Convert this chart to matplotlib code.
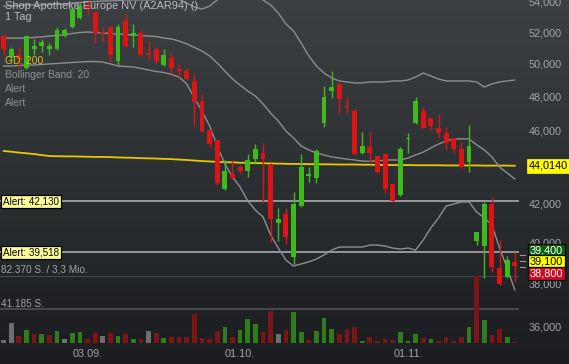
import numpy as np
import matplotlib
matplotlib.use('Agg')
import matplotlib.pyplot as plt
from matplotlib.lines import Line2D
from matplotlib.ticker import NullLocator

plt.rcParams['font.family'] = ['Liberation Sans', 'DejaVu Sans']

# ---------------- data ----------------
title = "Shop Apotheke Europe NV (A2AR94) ()"
period = "1 Tag"

opens = [51.74, 50.40, 50.53, 49.72, 50.91, 51.10, 50.91, 50.91, 51.74, 52.33,
         52.92, 53.78, 53.31, 51.99, 52.33, 50.15, 52.72, 51.74, 51.94, 50.66,
         50.91, 49.90, 50.34, 49.66, 49.53, 48.92, 47.71, 46.02, 45.45, 42.76,
         43.56, 43.94, 43.72, 44.38, 44.72, 44.05, 40.98, 41.44, 39.28, 41.86,
         43.45, 43.34, 46.42, 48.31, 48.75, 47.42, 47.12, 44.72, 45.05, 44.55,
         44.66, 43.02, 42.44, 45.51, 46.42, 47.12, 46.71, 46.13, 45.84, 45.56,
         44.94, 44.22, 40.07, 39.82, 41.96, 38.74, 38.31, 39.04]
highs = [51.87, 51.04, 51.04, 51.81, 51.55, 51.55, 51.29, 52.32, 52.26, 53.65,
         53.99, 54.26, 53.38, 52.33, 52.33, 52.52, 53.24, 52.52, 52.13, 51.42,
         51.04, 50.91, 50.66, 49.97, 49.72, 49.35, 48.13, 46.02, 45.45, 44.33,
         44.33, 44.05, 44.66, 45.22, 45.28, 44.16, 41.75, 41.75, 42.60, 44.66,
         43.94, 44.94, 48.62, 49.53, 48.80, 47.95, 47.24, 45.90, 45.90, 44.55,
         44.66, 43.02, 45.05, 45.84, 47.95, 47.36, 46.71, 46.94, 46.19, 45.56,
         45.33, 46.31, 40.52, 42.07, 42.33, 40.12, 39.33, 39.53]
lows = [50.53, 50.22, 49.72, 49.66, 50.53, 50.72, 50.53, 50.85, 51.68, 52.26,
        52.85, 53.11, 51.29, 51.42, 50.15, 49.90, 51.04, 51.04, 50.47, 50.28,
        49.97, 49.84, 49.41, 49.16, 48.98, 46.25, 45.90, 45.05, 42.97, 42.70,
        43.29, 43.62, 43.40, 44.11, 42.02, 40.02, 40.07, 39.92, 38.94, 41.80,
        43.13, 43.08, 46.19, 47.89, 47.00, 47.00, 44.60, 44.66, 44.22, 43.62,
        42.54, 42.07, 42.39, 44.72, 46.36, 46.13, 46.02, 45.56, 44.94, 44.72,
        43.89, 43.67, 39.87, 38.26, 38.55, 37.93, 38.26, 38.07]
closes = [50.93, 50.93, 50.28, 51.74, 51.10, 51.36, 51.10, 52.13, 52.13, 53.51,
          53.71, 53.51, 51.94, 51.94, 50.53, 52.33, 51.10, 51.94, 50.53, 50.53,
          50.15, 50.53, 49.72, 49.53, 49.04, 47.65, 45.96, 45.22, 43.08, 43.73,
          43.34, 43.72, 44.33, 44.94, 44.38, 41.19, 41.19, 40.27, 41.96, 43.94,
          43.56, 44.83, 47.95, 48.56, 47.83, 47.36, 44.66, 45.11, 44.72, 43.67,
          42.76, 42.12, 44.94, 45.56, 47.71, 46.13, 46.25, 45.84, 45.28, 44.94,
          43.94, 45.11, 40.52, 41.96, 38.79, 37.98, 39.13, 38.84]
volumes = [3672, 24072, 8160, 16320, 11424, 11016, 9792, 15096, 4896, 12648,
           13464, 4896, 12240, 8160, 12240, 8568, 11016, 5304, 4896, 15096,
           12240, 6120, 6936, 6936, 6936, 35496, 6120, 4896, 15096, 19992,
           7344, 15504, 29376, 23256, 13464, 39168, 11424, 16320, 38352, 13872,
           4080, 14688, 31008, 17136, 11016, 17136, 19584, 2856, 7752, 2856,
           4488, 4080, 13872, 2856, 11424, 6528, 4896, 2856, 7344, 2856,
           6936, 19176, 82370, 28560, 9792, 16728, 6936, 1200]
bb_upper = [53.71, 53.71, 53.75, 53.78, 53.78, 53.78, 53.81, 53.85, 53.85, 53.91,
            53.95, 53.98, 54.02, 54.05, 54.05, 54.08, 54.12, 54.12, 54.12, 54.12,
            54.15, 54.18, 54.18, 54.15, 53.91, 53.65, 53.51, 53.71, 54.12, 54.39,
            54.52, 54.52, 54.46, 54.32, 54.12, 53.78, 53.25, 52.52, 52.07, 51.29,
            50.47, 49.84, 49.41, 49.10, 48.92, 48.86, 48.80, 48.80, 48.86, 48.86,
            48.86, 48.92, 48.92, 48.98, 49.16, 49.41, 49.22, 49.04, 48.92, 48.92,
            48.92, 48.92, 48.86, 48.55, 48.74, 48.86, 48.92, 48.98]
bb_mid = [51.61, 51.61, 51.61, 51.61, 51.65, 51.68, 51.74, 51.77, 51.84, 51.90,
          51.97, 52.00, 51.97, 51.94, 51.90, 51.87, 51.84, 51.81, 51.77, 51.74,
          51.71, 51.61, 51.55, 51.42, 51.23, 51.01, 50.78, 50.47, 50.03, 49.53,
          49.04, 48.67, 48.31, 48.01, 47.54, 47.00, 46.54, 45.96, 45.56, 45.11,
          44.89, 44.72, 44.61, 44.50, 44.44, 44.38, 44.33, 44.27, 44.27, 44.27,
          44.33, 44.33, 44.33, 44.44, 44.61, 44.77, 45.00, 45.22, 45.39, 45.51,
          45.51, 45.51, 45.17, 44.89, 44.50, 43.94, 43.62, 43.29]
bb_lower = [49.84, 49.84, 49.87, 49.90, 49.90, 49.94, 49.97, 50.00, 50.03, 50.06,
            50.09, 50.12, 50.12, 50.09, 49.97, 49.84, 49.81, 49.78, 49.69, 49.59,
            49.50, 49.44, 49.32, 49.16, 48.74, 47.89, 47.12, 46.25, 45.11, 44.11,
            43.40, 42.86, 42.12, 41.65, 41.29, 40.37, 39.72, 39.13, 38.84, 38.94,
            39.04, 39.18, 39.38, 39.62, 39.77, 39.77, 39.77, 39.77, 39.87, 39.87,
            39.82, 39.72, 39.67, 39.72, 39.62, 40.12, 40.73, 41.24, 41.86, 41.96,
            42.07, 42.07, 41.55, 41.24, 40.88, 39.72, 38.74, 37.70]
gd200 = [44.83, 44.79, 44.74, 44.70, 44.66, 44.60, 44.55, 44.54, 44.53, 44.53,
         44.52, 44.51, 44.50, 44.50, 44.49, 44.47, 44.46, 44.45, 44.43, 44.42,
         44.41, 44.39, 44.38, 44.35, 44.33, 44.30, 44.27, 44.25, 44.22, 44.21,
         44.20, 44.18, 44.17, 44.16, 44.15, 44.14, 44.13, 44.12, 44.11, 44.11,
         44.10, 44.10, 44.09, 44.09, 44.08, 44.08, 44.08, 44.07, 44.07, 44.06,
         44.06, 44.05, 44.05, 44.05, 44.04, 44.04, 44.04, 44.04, 44.03, 44.03,
         44.03, 44.03, 44.03, 44.02, 44.02, 44.02, 44.02, 44.014]

date_tick_idx = [11, 31, 53]
date_labels = ['03.09.', '01.10.', '01.11.']
price_ticks = [36, 38, 40, 42, 44, 46, 48, 50, 52, 54]
alert_levels = [42.13, 39.518]
alert_labels = ['Alert: 42,130', 'Alert: 39,518']
gd_label = '44,0140'
quote_values = [39.40, 39.10, 38.80]
quote_labels = ['39,400', '39,100', '38,800']
vol_max_label = '82.370 S. / 3,3 Mio.'
vol_half_label = '41.185 S.'
vol_levels = [82370, 41185]
legend_items = [('GD: 200', '#d8c020'), ('Bollinger Band: 20', '#8e9093'),
                ('Alert', '#8e9093'), ('Alert', '#8e9093')]

# ---------------- layout helpers ----------------
W, H = 569, 364
def fx(px):
    return px / W
def fy(py):
    return 1 - py / H

fig = plt.figure(figsize=(W / 100, H / 100), dpi=100)

# background gradient
bg = fig.add_axes([0, 0, 1, 1], zorder=-10)
ys = np.arange(H)
stops_y = [0, 120, 240, 300, 364]
stops_c = np.array([[61, 64, 67], [50, 53, 56], [39, 42, 45], [31, 33, 36], [27, 29, 32]]) / 255
grad = np.stack([np.interp(ys, stops_y, stops_c[:, k]) for k in range(3)], axis=1)
img = np.repeat(grad[:, None, :], 10, axis=1)
bg.imshow(img, aspect='auto', extent=[0, 1, 0, 1])
bg.set_axis_off()

n = len(closes)
x = np.arange(n)
o = np.array(opens); h = np.array(highs); l = np.array(lows); c = np.array(closes)

XL = (-0.472, 67.55)
ax_right = 519

# volume axes
axv = fig.add_axes([0, fy(343), fx(ax_right), 67.3 / H], zorder=1)
axv.set_facecolor('none')
axv.set_xlim(*XL)
axv.set_ylim(0, max(volumes))
for s in axv.spines.values():
    s.set_visible(False)
axv.set_yticks([])
dc = np.sign(np.round(np.diff(c), 2))
vcols = ['#6e6e6e']
for d in dc:
    vcols.append('#2f7c1c' if d > 0 else ('#7c1616' if d < 0 else '#6e6e6e'))
axv.bar(x, volumes, width=0.62, color=vcols, linewidth=0)
for lv in vol_levels:
    axv.axhline(lv, color='#45484c', lw=1.5, zorder=0)
axv.set_xticks(date_tick_idx)
axv.set_xticklabels(date_labels)
axv.tick_params(axis='x', length=0, pad=4.5, labelsize=7.8, labelcolor='#a2a4a6')

# price axes
ax = fig.add_axes([0, fy(343), fx(ax_right), 343 / H], zorder=2)
ax.set_facecolor('none')
ax.set_yscale('log')
ax.set_ylim(35.285, 54.117)
ax.set_xlim(*XL)
for s in ax.spines.values():
    s.set_visible(False)
ax.set_xticks([])
ax.yaxis.tick_right()
ax.set_yticks(price_ticks)
ax.yaxis.set_minor_locator(NullLocator())
ax.set_yticklabels([f"{v:.3f}".replace('.', ',') for v in price_ticks])
ax.tick_params(axis='y', length=0, pad=7.2, labelsize=7.8, labelcolor='#a2a4a6')

# alert lines
for lv in alert_levels:
    ax.axhline(lv, color='#a9abad', lw=1.2, zorder=1)

# GD 200
ax.plot(x, gd200, color='#e8c800', lw=1.3, zorder=2)
# Bollinger
for band in (bb_upper, bb_mid, bb_lower):
    ax.plot(x, band, color='#8c8e90', lw=1.0, zorder=2)

# candles
up = c >= o
ccol = np.where(up, '#3fba1c', '#dc1414')
ax.vlines(x, l, h, colors=ccol, lw=1.0, zorder=3)
bottoms = np.minimum(o, c)
heights = np.maximum(np.abs(c - o), 0.06)
ax.bar(x, heights, bottom=bottoms, width=0.64, color=ccol, linewidth=0, zorder=4)

# ---------------- texts ----------------
fig.text(fx(5), fy(6), title, fontsize=7.9, color='#b8babc', va='center', ha='left')
fig.text(fx(5), fy(16.5), period, fontsize=7.9, color='#b8babc', va='center', ha='left')
for k, (txt, col) in enumerate(legend_items):
    fig.text(fx(5), fy(60.7 + 14 * k), txt, fontsize=7.4, color=col, va='center', ha='left')

alert_py = [201.5, 252.5]
for txt, py in zip(alert_labels, alert_py):
    fig.text(fx(3), fy(py), txt, fontsize=7.1, color='black', va='center', ha='left',
             bbox=dict(boxstyle='square,pad=0.18', fc='#ffff99', ec='black', lw=0.9))

fig.text(fx(1), fy(269), vol_max_label, fontsize=7.2, color='#a0a2a4', va='center', ha='left')
fig.text(fx(1), fy(304), vol_half_label, fontsize=7.2, color='#a0a2a4', va='center', ha='left')

# right side labels
fig.text(fx(529), fy(166), gd_label, fontsize=7.8, color='black', va='center', ha='left',
         bbox=dict(boxstyle='square,pad=0.2', fc='#ffff00', ec='#ffff00', lw=0.5))
q_styles = [('#0a640a', 'white'), ('#ffff00', 'black'), ('#d00c24', 'white')]
q_py = [250.5, 262, 273.5]
for txt, (fc, tc), py in zip(quote_labels, q_styles, q_py):
    fig.text(fx(530), fy(py), txt, fontsize=7.8, color=tc, va='center', ha='left',
             bbox=dict(boxstyle='square,pad=0.17', fc=fc, ec='black', lw=0.9))

# small connector marks for quotes
for v in quote_values:
    disp = ax.transData.transform((0, v))
    yfig = fig.transFigure.inverted().transform(disp)[1]
    fig.add_artist(Line2D([fx(520), fx(525)], [yfig, yfig], color='#9a9a9a', lw=0.8))

fig.savefig('out.png', dpi=100, facecolor=fig.get_facecolor())
